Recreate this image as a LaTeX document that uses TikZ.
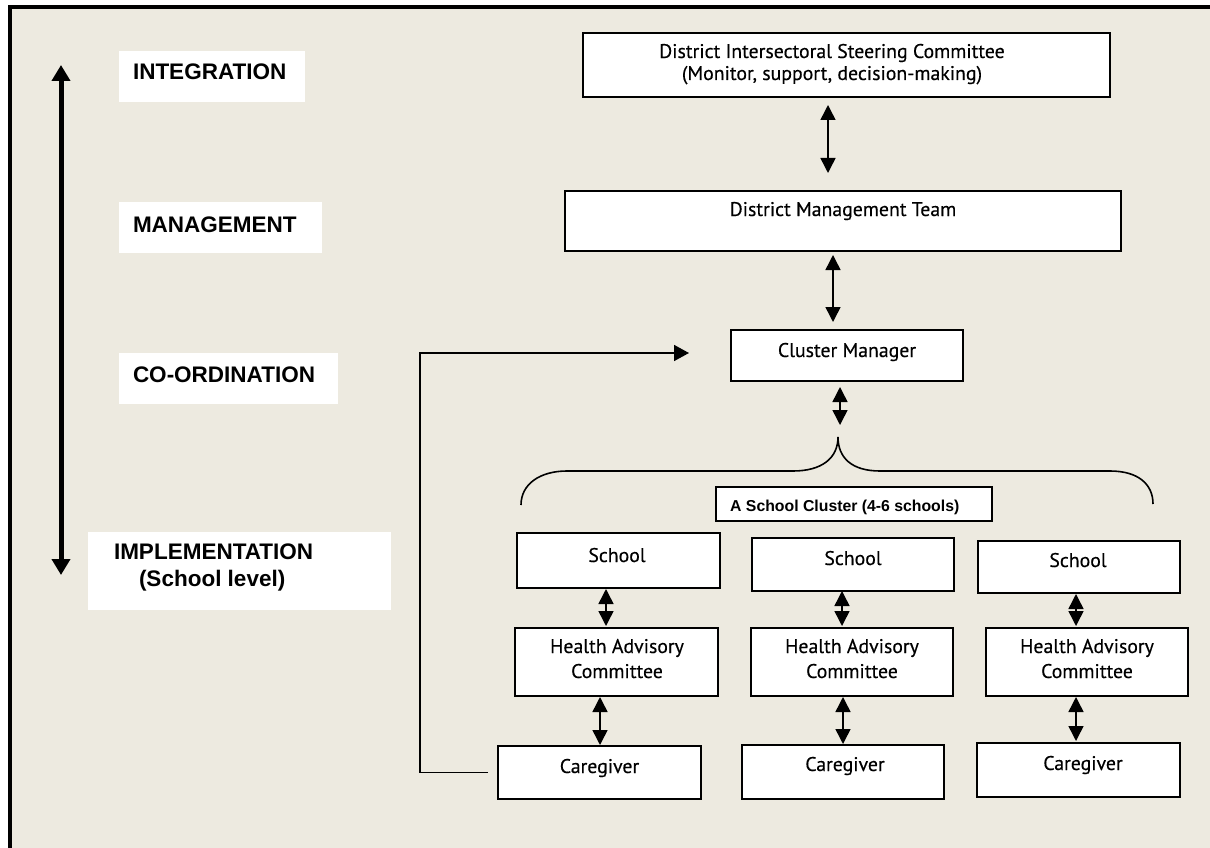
\documentclass[tikz,border=0pt]{standalone}
\usepackage{fontspec}
\setmainfont{Liberation Sans}
\newfontfamily\boxfont{PT Sans}[FakeBold=0.35]
\usetikzlibrary{arrows.meta}
\definecolor{bg}{RGB}{237,234,224}
\begin{document}
\begin{tikzpicture}[x=1pt,y=-1pt,
  box/.style={draw=black,line width=1.8pt,fill=white,inner sep=0pt,outer sep=0pt},
  lvl/.style={fill=white,draw=none,inner sep=0pt,outer sep=0pt},
  lvltext/.style={anchor=base west,inner sep=0pt,outer sep=0pt,font=\fontsize{22.5}{27}\selectfont\bfseries},
  bt/.style={anchor=base,inner sep=0pt,outer sep=0pt,font=\boxfont\fontsize{19.8}{23}\selectfont},
  dbl/.style={line width=1.5pt,{Triangle[length=15pt,width=15pt]}-{Triangle[length=15pt,width=15pt]}},
  thin/.style={line width=1.6pt},
]
\useasboundingbox (0,0) rectangle (1210,848);
\fill[white] (0,0) rectangle (1210,848);
\fill[bg] (10,7) rectangle (1210,848);
\draw[line width=4pt] (10,848) -- (10,7) -- (1210,7);

% level labels
\node[lvl,minimum width=186pt,minimum height=51pt] (lint) at (212,76.5) {};
\node[lvl,minimum width=203pt,minimum height=51pt] (lman) at (220.5,227.5) {};
\node[lvl,minimum width=219pt,minimum height=51pt] (lco) at (228.5,378.5) {};
\node[lvl,minimum width=303pt,minimum height=78pt] (limp) at (239.5,571) {};
\node[lvltext] (tint) at (133,80) {INTEGRATION};
\node[lvltext] (tman) at (133,232) {MANAGEMENT};
\node[lvltext] (tco) at (133,382) {CO-ORDINATION};
\node[lvltext] (timp) at (114,559) {IMPLEMENTATION};
\node[lvltext] (tsl) at (139,586) {(School level)};

% big vertical arrow
\coordinate (la1) at (61,65);
\coordinate (la2) at (61,575);
\draw[line width=5pt,{Triangle[length=16pt,width=18pt]}-{Triangle[length=16pt,width=18pt]}] (la1) -- (la2);

% boxes
\node[box,minimum width=527pt,minimum height=64pt] (disc) at (846.5,65) {};
\node[box,minimum width=556pt,minimum height=60pt] (dmt) at (843,221) {};
\node[box,minimum width=232pt,minimum height=51pt] (cm) at (847,355.5) {};
\node[box,minimum width=276pt,minimum height=34pt] (cl) at (854,504) {};
\node[box,minimum width=203pt,minimum height=55pt] (s1) at (618.5,560.5) {};
\node[box,minimum width=202pt,minimum height=53pt] (s2) at (853,564.5) {};
\node[box,minimum width=202pt,minimum height=52pt] (s3) at (1079,567) {};
\node[box,minimum width=203pt,minimum height=68pt] (h1) at (616.5,662) {};
\node[box,minimum width=202pt,minimum height=68pt] (h2) at (852,662) {};
\node[box,minimum width=202pt,minimum height=68pt] (h3) at (1087,662) {};
\node[box,minimum width=203pt,minimum height=53pt] (c1) at (599.5,772.5) {};
\node[box,minimum width=202pt,minimum height=54pt] (c2) at (843,772) {};
\node[box,minimum width=203pt,minimum height=54pt] (c3) at (1078.5,770) {};

% box texts
\node[bt] (tdisc1) at (832,58) {District Intersectoral Steering Committee};
\node[bt] (tdisc2) at (832,80) {(Monitor, support, decision-making)};
\node[bt] (tdmt) at (843,216) {District Management Team};
\node[bt] (tcm) at (847,357) {Cluster Manager};
\node[anchor=base west,inner sep=0pt,font=\fontsize{15.8}{18}\selectfont\bfseries] (tcl) at (730,511) {A School Cluster (4-6 schools)};
\node[bt] (ts1) at (617,562) {School};
\node[bt] (ts2) at (853,565) {School};
\node[bt] (ts3) at (1078,567) {School};
\node[bt] (th1a) at (617,653) {Health Advisory};
\node[bt] (th1b) at (617,678) {Committee};
\node[bt] (th2a) at (852,653) {Health Advisory};
\node[bt] (th2b) at (852,678) {Committee};
\node[bt] (th3a) at (1087,653) {Health Advisory};
\node[bt] (th3b) at (1087,678) {Committee};
\node[bt] (tc1) at (599.5,773) {Caregiver};
\node[bt] (tc2) at (845,771) {Caregiver};
\node[bt] (tc3) at (1083,770) {Caregiver};

% arrow x positions
\coordinate (xa) at (828,0);
\coordinate (xb) at (833,0);
\coordinate (x1a) at (606,0);
\coordinate (x1b) at (600,0);
\coordinate (x2a) at (842,0);
\coordinate (x2b) at (843,0);
\coordinate (x3) at (1076,0);

\draw[dbl,shorten <=8pt,shorten >=18pt] (disc.south -| xa) -- (dmt.north -| xa);
\draw[dbl,shorten <=4pt,shorten >=8pt] (dmt.south -| xb) -- (cm.north -| xb);

% brace
\coordinate (btip) at (838,437);
\coordinate (barr) at (840,425);
\coordinate (xc) at (840,0);
\draw[dbl,shorten <=6pt] (cm.south -| xc) -- (barr);
\draw[thin] (521,505) .. controls (521,484) and (540,471) .. (567,471)
  -- (793,471) .. controls (822,471) and (838,458) .. (btip)
  .. controls (838,458) and (852,471) .. (880,471)
  -- (1110,471) .. controls (1138,471) and (1153,484) .. (1153,504);

\draw[dbl,shorten <=1pt,shorten >=2pt] (s1.south -| x1a) -- (h1.north -| x1a);
\draw[dbl,shorten <=1pt,shorten >=1pt] (h1.south -| x1b) -- (c1.north -| x1b);
\draw[dbl,shorten <=0pt,shorten >=2pt] (s2.south -| x2a) -- (h2.north -| x2a);
\draw[dbl,shorten <=1pt,shorten >=1pt] (h2.south -| x2b) -- (c2.north -| x2b);
\draw[dbl,shorten <=1pt,shorten >=2pt] (s3.south -| x3) -- (h3.north -| x3);
\draw[dbl,shorten <=1pt,shorten >=2pt] (h3.south -| x3) -- (c3.north -| x3);

% feedback line
\coordinate (fbc) at (420,353);
\draw[thin,-{Triangle[length=15pt,width=16pt]},shorten >=42pt] ([xshift=-10pt]c1.west) -| (fbc) -- (cm.west |- fbc);
\end{tikzpicture}
\end{document}
